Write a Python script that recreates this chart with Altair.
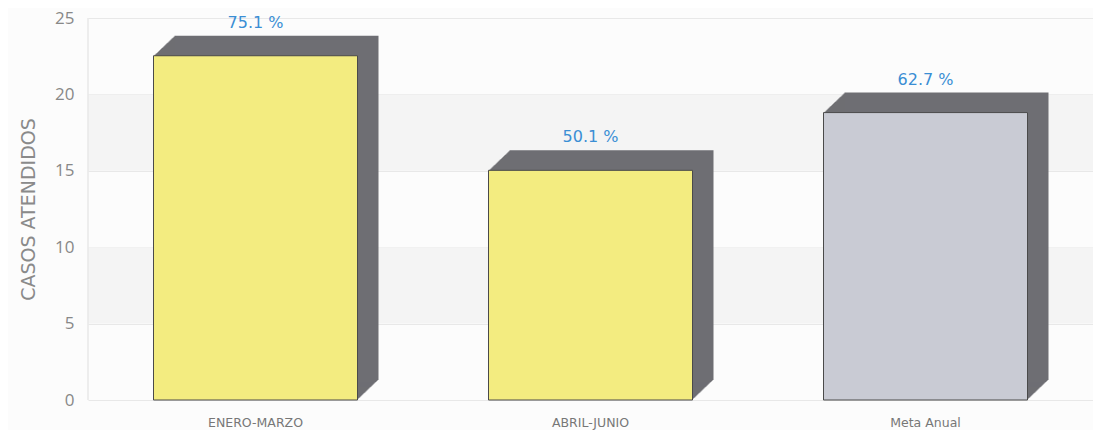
import altair as alt
import pandas as pd

categorias = ["ENERO-MARZO", "ABRIL-JUNIO", "Meta Anual"]
casos = [22.53, 15.03, 18.81]
etiquetas = ["75.1 %", "50.1 %", "62.7 %"]
colores = ["#f3ec80", "#f3ec80", "#c9cbd4"]

banda_inicio = [5, 15]
banda_fin = [10, 20]

df = pd.DataFrame({"cat": categorias, "casos": casos, "etq": etiquetas, "color": colores})
bandas = pd.DataFrame({"y0": banda_inicio, "y1": banda_fin})

W, H = 1005, 382
BAR = 204

xenc = alt.X("cat:N", sort=categorias, title=None,
             scale=alt.Scale(paddingInner=0, paddingOuter=0),
             axis=alt.Axis(labelAngle=0, labelFontSize=12.5, labelColor="#777777",
                           labelFont="DejaVu Sans", labelPadding=16, ticks=False,
                           domain=False, grid=False))
yscale = alt.Scale(domain=[0, 25], nice=False)
yenc = alt.Y("casos:Q", scale=yscale, title="CASOS ATENDIDOS",
             axis=alt.Axis(values=[0, 5, 10, 15, 20, 25], labelFontSize=17,
                           labelColor="#888888", labelFont="Open Sans",
                           titleFontSize=19, titleColor="#8a8a8a", titleFont="DejaVu Sans",
                           titleFontWeight="normal", titlePadding=16, labelPadding=14,
                           ticks=False, domain=False, gridColor="#e8e8e8"))

base = alt.Chart(df)

band_layer = alt.Chart(bandas).mark_rect(color="#f4f4f4").encode(
    y=alt.Y("y0:Q", scale=yscale), y2="y1:Q",
    x=alt.value(0), x2=alt.value(W))

leftline = alt.Chart(bandas).mark_rule(color="#e8e8e8").encode(
    x=alt.value(0), y=alt.value(0), y2=alt.value(H))

shadows = []
N = 21
for k in range(1, N + 1):
    dx = k
    dy = -k * 20.0 / N
    shadows.append(base.mark_bar(color="#6e6e73", size=BAR, xOffset=dx, x2Offset=dx,
                                 yOffset=dy, y2Offset=dy).encode(x=xenc, y=yenc))

front = base.mark_bar(size=BAR, stroke="#4a4a4a", strokeWidth=1).encode(
    x=xenc, y=yenc, color=alt.Color("color:N", scale=None))

text = base.mark_text(baseline="bottom", dy=-25, fontSize=16, color="#3a8ed4",
                      font="DejaVu Sans").encode(
    x=alt.X("cat:N", sort=categorias), y="casos:Q", text="etq:N")

chart = alt.layer(band_layer, leftline, *shadows, front, text).properties(
    width=W, height=H,
    autosize=alt.AutoSizeParams(type="none"),
    padding={"left": 80, "top": 10, "right": 0, "bottom": 30},
    background="#fcfcfc",
).configure_view(stroke=None)

chart.save("out.html", embed_options={"renderer": "svg", "actions": False})
